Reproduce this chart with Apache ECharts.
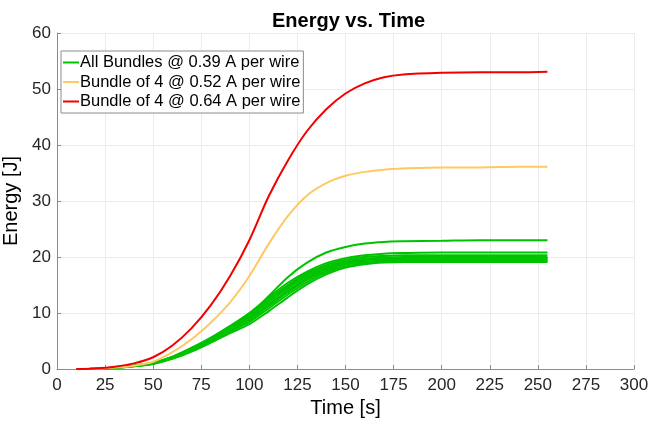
<!DOCTYPE html>
<html>
<head>
<meta charset="utf-8">
<script src="https://cdn.jsdelivr.net/npm/echarts@6/dist/echarts.min.js"></script>
<style>
  html, body { margin: 0; padding: 0; background: #fff; }
  #chart { width: 650px; height: 424px; }
</style>
</head>
<body>
<div id="chart"></div>
<script>
// time samples [s]
const time = [10, 20, 30, 40, 50, 60, 70, 80, 90, 100, 110, 120, 130, 140, 150, 160, 170, 180, 200, 220, 240, 255]

// energy [J]
const red064 = [0, 0.1, 0.4, 1.0, 2.1, 4.2, 7.3, 11.4, 16.6, 23.0, 30.8, 37.2, 42.5, 46.4, 49.2, 51.0, 52.1, 52.6, 52.9, 53.0, 53.0, 53.1]
const yellow052 = [0, 0.05, 0.25, 0.6, 1.3, 3.0, 5.3, 8.3, 11.9, 16.6, 22.3, 27.3, 31.0, 33.2, 34.5, 35.2, 35.6, 35.8, 36.0, 36.0, 36.1, 36.1]

// green bundle, 0.39 A per wire
const green1 = [0, 0.05, 0.2, 0.5, 0.9, 1.8, 3.1, 4.7, 6.4, 8.0, 10.3, 12.8, 15.1, 16.9, 18.1, 18.7, 19.0, 19.1, 19.1, 19.1, 19.1, 19.1]
const green2 = [0, 0.05, 0.2, 0.5, 0.95, 1.9, 3.3, 4.9, 6.7, 8.4, 10.8, 13.3, 15.5, 17.2, 18.3, 18.9, 19.2, 19.3, 19.3, 19.3, 19.3, 19.3]
const green3 = [0, 0.05, 0.22, 0.52, 1.0, 2.0, 3.4, 5.0, 6.9, 8.7, 11.2, 13.7, 15.9, 17.5, 18.6, 19.1, 19.4, 19.5, 19.5, 19.5, 19.5, 19.5]
const green4 = [0, 0.05, 0.22, 0.55, 1.0, 2.0, 3.5, 5.1, 7.1, 9.0, 11.5, 14.0, 16.2, 17.8, 18.8, 19.3, 19.5, 19.6, 19.65, 19.65, 19.65, 19.65]
const green5 = [0, 0.05, 0.23, 0.56, 1.05, 2.1, 3.6, 5.3, 7.3, 9.3, 11.9, 14.4, 16.5, 18.0, 19.0, 19.5, 19.7, 19.8, 19.8, 19.8, 19.8, 19.8]
const green6 = [0, 0.05, 0.24, 0.58, 1.05, 2.1, 3.6, 5.4, 7.4, 9.5, 12.2, 14.7, 16.8, 18.3, 19.2, 19.7, 19.9, 20.0, 20.0, 20.0, 20.0, 20.0]
const green7 = [0, 0.05, 0.24, 0.58, 1.1, 2.15, 3.7, 5.5, 7.6, 9.8, 12.5, 15.0, 17.1, 18.6, 19.5, 20.0, 20.2, 20.3, 20.3, 20.3, 20.3, 20.3]
const green8 = [0, 0.05, 0.25, 0.6, 1.1, 2.2, 3.8, 5.6, 7.7, 10.0, 12.8, 15.4, 17.4, 18.9, 19.8, 20.3, 20.6, 20.7, 20.8, 20.8, 20.8, 20.8]
const greenTop = [0, 0.05, 0.22, 0.55, 1.0, 2.0, 3.5, 5.2, 7.3, 9.6, 13.0, 16.4, 19.0, 20.8, 21.8, 22.4, 22.7, 22.8, 22.9, 23.0, 23.0, 23.0]

const greens = [green1, green2, green3, green4, green5, green6, green7, green8, greenTop]

const xTicks = { min: 0, max: 300, interval: 25 }
const yTicks = { min: 0, max: 60, interval: 10 }

const NAME_G = 'All Bundles @ 0.39 A per wire'
const NAME_Y = 'Bundle of 4 @ 0.52 A per wire'
const NAME_R = 'Bundle of 4 @ 0.64 A per wire'

const pairs = vals => time.map((t, i) => [t, vals[i]])

const lineSeries = (name, vals, color) => ({
    name: name,
    type: 'line',
    data: pairs(vals),
    showSymbol: false,
    smooth: 0.3,
    color: color,
    lineStyle: { width: 2, color: color },
    emphasis: { disabled: true }
})

const font = 'Liberation Sans, Arial, Helvetica, sans-serif'

const chart = echarts.init(document.getElementById('chart'))
chart.setOption({
    animation: false,
    title: {
        text: 'Energy vs. Time',
        left: 267,
        top: 6,
        textStyle: { fontFamily: font, fontSize: 20, fontWeight: 'bold', color: '#000' }
    },
    grid: {
        left: 57,
        right: 16,
        top: 33,
        bottom: 55,
        outerBoundsMode: 'none'
    },
    legend: {
        data: [NAME_G, NAME_Y, NAME_R],
        orient: 'vertical',
        left: 61,
        top: 51,
        itemWidth: 16,
        itemHeight: 2,
        itemGap: 2.5,
        icon: 'rect',
        padding: [3, 3, 3, 2],
        backgroundColor: '#fff',
        borderColor: '#8c8c8c',
        borderWidth: 1,
        borderRadius: 0,
        textStyle: { fontFamily: font, fontSize: 16.5, lineHeight: 17, color: '#000', padding: [0, 0, 0, -4] }
    },
    xAxis: {
        type: 'value',
        min: xTicks.min,
        max: xTicks.max,
        interval: xTicks.interval,
        name: 'Time [s]',
        nameLocation: 'middle',
        nameGap: 29,
        nameTextStyle: { fontFamily: font, fontSize: 20, color: '#000' },
        axisLine: { show: true, lineStyle: { color: '#8c8c8c', width: 1 } },
        axisTick: { show: true, inside: true, length: 4, lineStyle: { color: '#8c8c8c' } },
        axisLabel: { fontFamily: font, fontSize: 17, color: '#262626', margin: 8 },
        splitLine: { show: true, lineStyle: { color: '#ebebeb', width: 1 } }
    },
    yAxis: {
        type: 'value',
        min: yTicks.min,
        max: yTicks.max,
        interval: yTicks.interval,
        name: 'Energy [J]',
        nameLocation: 'middle',
        nameGap: 28,
        nameTextStyle: { fontFamily: font, fontSize: 20, color: '#000' },
        axisLine: { show: true, lineStyle: { color: '#8c8c8c', width: 1 } },
        axisTick: { show: true, inside: true, length: 4, lineStyle: { color: '#8c8c8c' } },
        axisLabel: { fontFamily: font, fontSize: 17, color: '#262626', margin: 6 },
        splitLine: { show: true, lineStyle: { color: '#ebebeb', width: 1 } }
    },
    series: [
        ...greens.map(g => lineSeries(NAME_G, g, '#00c300')),
        lineSeries(NAME_Y, yellow052, '#ffc862'),
        lineSeries(NAME_R, red064, '#f20000')
    ]
})
</script>
</body>
</html>
